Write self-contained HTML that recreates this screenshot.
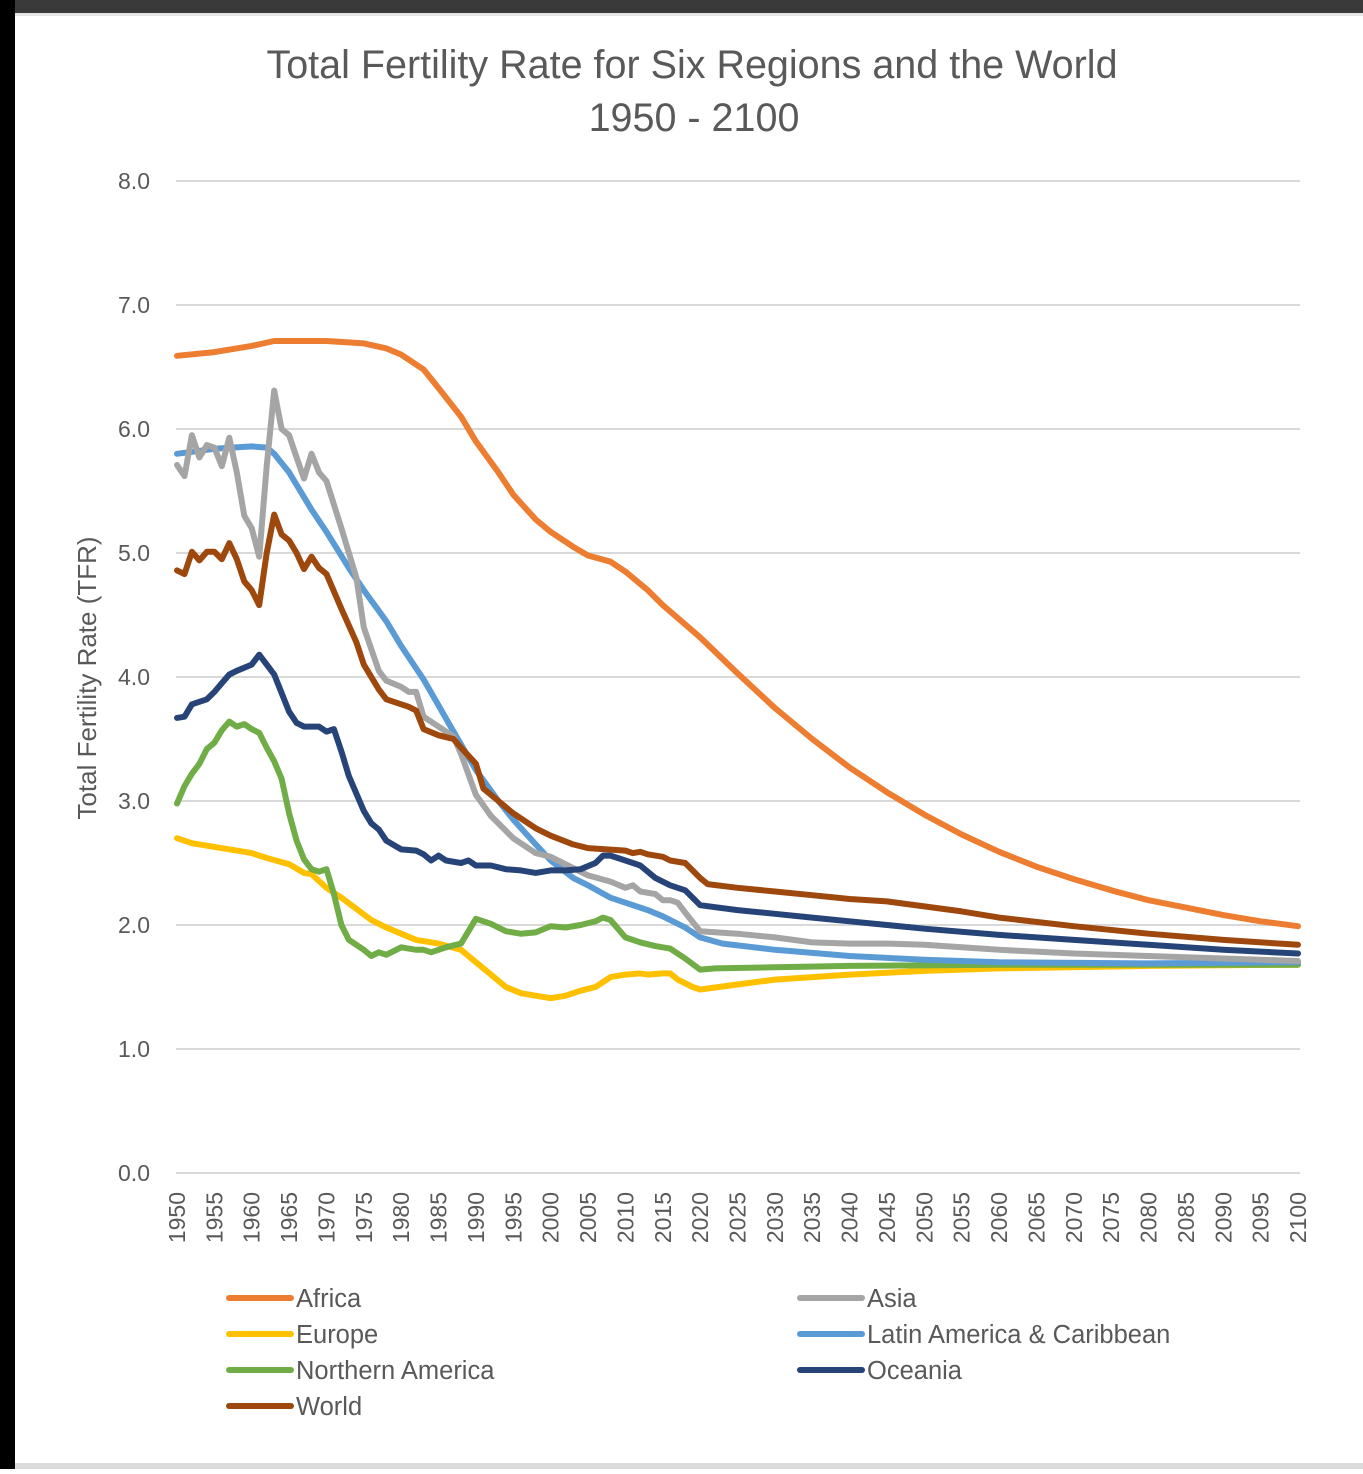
<!DOCTYPE html>
<html><head><meta charset="utf-8"><style>
body{margin:0;width:1363px;height:1469px;overflow:hidden;background:#fff;font-family:"Liberation Sans",sans-serif;}
svg text{font-family:"Liberation Sans",sans-serif;fill:#595959;}
</style></head><body>
<svg id="chart" width="1363" height="1469">
<rect x="0" y="0" width="1363" height="13" fill="#3a3a3a"/>
<rect x="0" y="0" width="15" height="1469" fill="#000"/>
<rect x="15" y="13" width="1348" height="3" fill="#e6e6e6"/>
<rect x="15" y="1463" width="1348" height="6" fill="#dcdcdc"/>
<text x="692" y="78" text-anchor="middle" font-size="39.5">Total Fertility Rate for Six Regions and the World</text>
<text x="694" y="131" text-anchor="middle" font-size="39.5">1950 - 2100</text>
<text transform="translate(96,678) rotate(-90)" text-anchor="middle" font-size="26">Total Fertility Rate (TFR)</text>
<g id="grid"></g><g id="ylabels"></g><g id="xlabels"></g><g id="lines"></g><g id="legend"></g>
</svg>
<script>
const yTicks=[0,1,2,3,4,5,6,7,8];
const xTicks=[1950,1955,1960,1965,1970,1975,1980,1985,1990,1995,2000,2005,2010,2015,2020,2025,2030,2035,2040,2045,2050,2055,2060,2065,2070,2075,2080,2085,2090,2095,2100];
const africaYears=[1950,1955,1960,1963,1970,1975,1978,1980,1983,1985,1988,1990,1993,1995,1998,2000,2003,2005,2008,2010,2013,2015,2020,2025,2030,2035,2040,2045,2050,2055,2060,2065,2070,2075,2080,2085,2090,2095,2100];
const africaValues=[6.59,6.62,6.67,6.71,6.71,6.69,6.65,6.60,6.48,6.33,6.10,5.90,5.65,5.47,5.27,5.17,5.05,4.98,4.93,4.85,4.70,4.58,4.32,4.03,3.75,3.50,3.27,3.07,2.89,2.73,2.59,2.47,2.37,2.28,2.20,2.14,2.08,2.03,1.99];
const asiaYears=[1950,1951,1952,1953,1954,1955,1956,1957,1958,1959,1960,1961,1962,1963,1964,1965,1966,1967,1968,1969,1970,1972,1974,1975,1977,1978,1980,1981,1982,1983,1985,1987,1988,1990,1992,1995,1998,2000,2005,2008,2010,2011,2012,2014,2015,2016,2017,2018,2020,2025,2030,2035,2040,2045,2050,2055,2060,2070,2080,2090,2100];
const asiaValues=[5.71,5.62,5.95,5.77,5.87,5.85,5.70,5.93,5.65,5.30,5.20,4.97,5.70,6.31,6.00,5.95,5.77,5.60,5.80,5.65,5.58,5.20,4.80,4.40,4.05,3.97,3.92,3.88,3.88,3.68,3.60,3.52,3.38,3.05,2.88,2.70,2.58,2.55,2.40,2.35,2.30,2.32,2.27,2.25,2.20,2.20,2.18,2.10,1.95,1.93,1.90,1.86,1.85,1.85,1.84,1.82,1.80,1.77,1.75,1.73,1.71];
const latinYears=[1950,1955,1960,1962,1963,1965,1968,1970,1973,1975,1978,1980,1983,1985,1987,1990,1993,1995,1998,2000,2003,2005,2008,2010,2013,2015,2018,2020,2023,2030,2040,2050,2060,2080,2100];
const latinValues=[5.80,5.84,5.86,5.85,5.80,5.65,5.35,5.17,4.88,4.70,4.45,4.25,3.98,3.77,3.56,3.25,3.00,2.85,2.65,2.52,2.38,2.32,2.22,2.18,2.12,2.07,1.98,1.90,1.85,1.80,1.75,1.72,1.70,1.69,1.70];
const europeYears=[1950,1952,1955,1958,1960,1962,1965,1967,1968,1970,1972,1974,1976,1978,1980,1982,1985,1988,1990,1992,1994,1996,1998,2000,2002,2004,2006,2008,2010,2012,2013,2015,2016,2017,2019,2020,2025,2030,2040,2050,2060,2080,2100];
const europeValues=[2.70,2.66,2.63,2.60,2.58,2.54,2.49,2.42,2.41,2.30,2.22,2.13,2.04,1.98,1.93,1.88,1.85,1.80,1.70,1.60,1.50,1.45,1.43,1.41,1.43,1.47,1.50,1.58,1.60,1.61,1.60,1.61,1.61,1.56,1.50,1.48,1.52,1.56,1.60,1.63,1.65,1.67,1.68];
const namYears=[1950,1951,1952,1953,1954,1955,1956,1957,1958,1959,1960,1961,1962,1963,1964,1965,1966,1967,1968,1969,1970,1971,1972,1973,1975,1976,1977,1978,1980,1982,1983,1984,1986,1988,1989,1990,1992,1994,1996,1998,2000,2002,2004,2006,2007,2008,2010,2012,2014,2016,2018,2020,2022,2030,2040,2060,2100];
const namValues=[2.98,3.12,3.22,3.30,3.42,3.47,3.57,3.64,3.60,3.62,3.58,3.55,3.43,3.32,3.18,2.90,2.68,2.53,2.45,2.43,2.45,2.25,2.00,1.88,1.80,1.75,1.78,1.76,1.82,1.80,1.80,1.78,1.82,1.85,1.95,2.05,2.01,1.95,1.93,1.94,1.99,1.98,2.00,2.03,2.06,2.04,1.90,1.86,1.83,1.81,1.73,1.64,1.65,1.66,1.67,1.68,1.68];
const oceaniaYears=[1950,1951,1952,1954,1955,1956,1957,1958,1960,1961,1962,1963,1965,1966,1967,1969,1970,1971,1972,1973,1975,1976,1977,1978,1980,1982,1983,1984,1985,1986,1988,1989,1990,1992,1994,1996,1998,2000,2002,2004,2006,2007,2008,2010,2012,2014,2016,2018,2019,2020,2025,2030,2035,2040,2045,2050,2060,2070,2080,2090,2100];
const oceaniaValues=[3.67,3.68,3.78,3.82,3.88,3.95,4.02,4.05,4.10,4.18,4.10,4.02,3.72,3.63,3.60,3.60,3.56,3.58,3.40,3.20,2.92,2.82,2.77,2.68,2.61,2.60,2.57,2.52,2.56,2.52,2.50,2.52,2.48,2.48,2.45,2.44,2.42,2.44,2.44,2.45,2.50,2.56,2.56,2.52,2.48,2.38,2.32,2.28,2.22,2.16,2.12,2.09,2.06,2.03,2.00,1.97,1.92,1.88,1.84,1.80,1.77];
const worldYears=[1950,1951,1952,1953,1954,1955,1956,1957,1958,1959,1960,1961,1962,1963,1964,1965,1966,1967,1968,1969,1970,1972,1974,1975,1977,1978,1980,1981,1982,1983,1985,1987,1988,1990,1991,1993,1995,1998,2000,2003,2005,2010,2011,2012,2013,2015,2016,2018,2020,2021,2025,2030,2035,2040,2045,2050,2055,2060,2070,2080,2090,2100];
const worldValues=[4.86,4.83,5.01,4.94,5.01,5.01,4.95,5.08,4.95,4.77,4.70,4.58,5.00,5.31,5.15,5.10,5.00,4.87,4.97,4.88,4.83,4.55,4.28,4.10,3.90,3.82,3.78,3.76,3.73,3.58,3.53,3.50,3.43,3.30,3.10,3.00,2.90,2.78,2.72,2.65,2.62,2.60,2.58,2.59,2.57,2.55,2.52,2.50,2.38,2.33,2.30,2.27,2.24,2.21,2.19,2.15,2.11,2.06,1.99,1.93,1.88,1.84];
const seriesNames=["Africa","Asia","Europe","Latin America & Caribbean","Northern America","Oceania","World"];

const NS="http://www.w3.org/2000/svg";
const X0=177,X1=1298,Y0=1173,PX=124;
function xS(yr){return X0+(yr-1950)*(X1-X0)/150;}
function yS(v){return Y0-v*PX;}
function mk(tag,parent,attrs){const e=document.createElementNS(NS,tag);for(const k in attrs)e.setAttribute(k,attrs[k]);document.getElementById(parent).appendChild(e);return e;}

yTicks.forEach(t=>{
  const l=mk('line','grid',{x1:176,x2:1300,y1:yS(t),y2:yS(t),stroke:'#d9d9d9','stroke-width':2});
  
  
  const tx=mk('text','ylabels',{x:150,y:yS(t)+8,'text-anchor':'end','font-size':23});
  tx.textContent=t.toFixed(1);
  
  
});
xTicks.forEach(t=>{
  const tx=mk('text','xlabels',{transform:'translate('+(xS(t)+8)+',1192) rotate(-90)','text-anchor':'end','font-size':23});
  tx.textContent=t;
  
  
});
const series=[
 ["africa",africaYears,africaValues,"#ed7d31"],
 ["asia",asiaYears,asiaValues,"#a5a5a5"],
 ["europe",europeYears,europeValues,"#ffc000"],
 ["latin-america",latinYears,latinValues,"#5b9bd5"],
 ["northern-america",namYears,namValues,"#70ad47"],
 ["world",worldYears,worldValues,"#9e480e"],
 ["oceania",oceaniaYears,oceaniaValues,"#264478"]];
const order=["africa","europe","northern-america","latin-america","asia","world","oceania"];
const lookup={};series.forEach(s=>lookup[s[0]]=s);
order.forEach(n=>{const s=lookup[n];
  const pts=s[1].map((yr,i)=>xS(yr).toFixed(1)+','+yS(s[2][i]).toFixed(1)).join(' ');
  const p=mk('polyline','lines',{points:pts,fill:'none',stroke:s[3],'stroke-width':6,'stroke-linejoin':'round','stroke-linecap':'round'});
  
  
});
const leg=[["Africa","#ed7d31",227,1298],["Europe","#ffc000",227,1334],["Northern America","#70ad47",227,1370],["World","#9e480e",227,1406],["Asia","#a5a5a5",798,1298],["Latin America & Caribbean","#5b9bd5",798,1334],["Oceania","#264478",798,1370]];
leg.forEach(l=>{
  const ln=mk('line','legend',{x1:l[2]+2,x2:l[2]+64,y1:l[3],y2:l[3],stroke:l[1],'stroke-width':6,'stroke-linecap':'round'});
  
  
  const tx=mk('text','legend',{x:l[2]+69,y:l[3]+9,'font-size':25.5});
  tx.textContent=l[0];
  
  
});
</script>
</body></html>
